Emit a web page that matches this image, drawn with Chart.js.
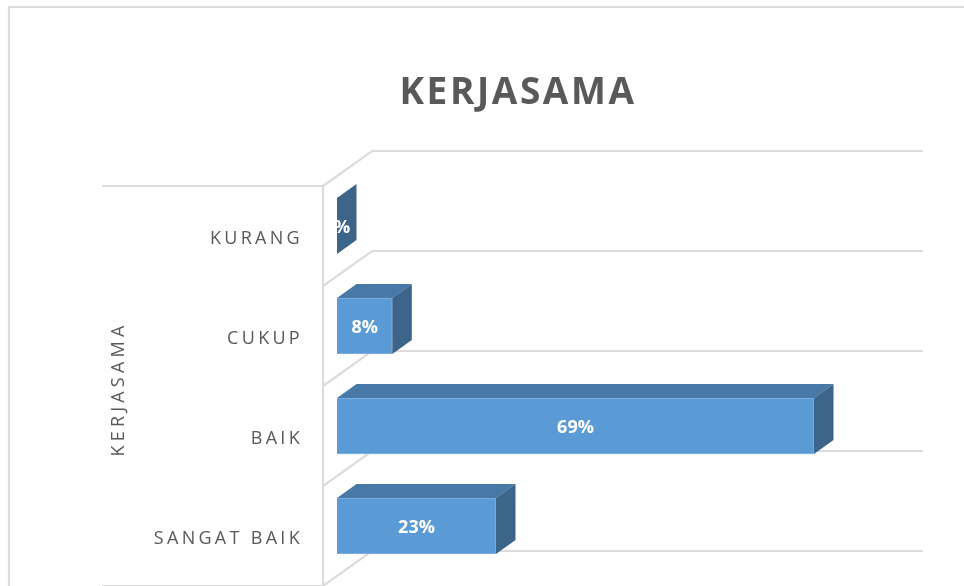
<!DOCTYPE html>
<html>
<head>
<meta charset="utf-8">
<title>KERJASAMA</title>
<script src="https://cdn.jsdelivr.net/npm/chart.js@4/dist/chart.umd.min.js"></script>
<style>
html,body{margin:0;padding:0;background:#fff;overflow:hidden}
canvas{display:block}
</style>
</head>
<body>
<canvas id="c" width="964" height="586"></canvas>
<script>
const categories = ['KURANG', 'CUKUP', 'BAIK', 'SANGAT BAIK'];
const values = [0, 8, 69, 23];
const chartTitle = 'KERJASAMA';
const axisTitle = 'KERJASAMA';

const FONT = '"Open Sans", Lato, sans-serif';
const INK = '#595959', GRID = '#dcdcdc';
const FRONT = '#5b9bd5', TOP = '#4878a6', SIDE = '#3c6589', EDGE = '#86b4de';
const DX = 19.5, DY = -14;         // bar extrusion
const BACK_DY = -25, FRONT_DY = 10; // wall offsets from the category band edges

const threeD = {
  id: 'threeD',
  beforeDraw(chart) {
    const ctx = chart.ctx;
    ctx.letterSpacing = '3.3px';
    ctx.save();
    ctx.strokeStyle = GRID;
    ctx.lineWidth = 2.2;
    ctx.beginPath();
    ctx.moveTo(9, 586); ctx.lineTo(9, 7); ctx.lineTo(964, 7);
    ctx.stroke();
    ctx.restore();
  },
  beforeDatasetsDraw(chart) {
    const ctx = chart.ctx, y = chart.scales.y;
    ctx.letterSpacing = '0px';
    const band = y.getPixelForTick(1) - y.getPixelForTick(0);
    const wallX = 323, backX = 372, endX = 923, floorX = 102;
    const edges = [];
    for (let i = 0; i <= categories.length; i++) edges.push(y.top + band * i);
    ctx.save();
    ctx.strokeStyle = GRID;
    ctx.lineWidth = 2.2;
    ctx.beginPath();
    ctx.moveTo(floorX, edges[0] + FRONT_DY);
    ctx.lineTo(wallX, edges[0] + FRONT_DY);
    ctx.lineTo(wallX, 586);
    ctx.moveTo(floorX, edges[4] + FRONT_DY);
    ctx.lineTo(wallX, edges[4] + FRONT_DY);
    edges.forEach(e => {
      ctx.moveTo(wallX, e + FRONT_DY);
      ctx.lineTo(backX, e + BACK_DY);
      ctx.lineTo(endX, e + BACK_DY);
    });
    ctx.stroke();
    ctx.restore();
  },
  afterDatasetsDraw(chart) {
    const ctx = chart.ctx;
    const bars = chart.getDatasetMeta(0).data;
    ctx.save();
    bars.forEach(b => {
      const t = b.y - b.height / 2, bt = b.y + b.height / 2, l = b.base, r = b.x;
      if (r > l) {
        ctx.fillStyle = TOP;
        ctx.beginPath();
        ctx.moveTo(l, t); ctx.lineTo(l + DX, t + DY); ctx.lineTo(r + DX, t + DY); ctx.lineTo(r, t);
        ctx.closePath(); ctx.fill();
      }
      ctx.fillStyle = SIDE;
      ctx.beginPath();
      ctx.moveTo(r, t); ctx.lineTo(r + DX, t + DY); ctx.lineTo(r + DX, bt + DY); ctx.lineTo(r, bt);
      ctx.closePath(); ctx.fill();
    });
    ctx.restore();
    // value labels, clipped at the zero line as in the original
    ctx.save();
    ctx.beginPath();
    ctx.rect(bars[0].base, 0, chart.width, chart.height);
    ctx.clip();
    ctx.fillStyle = '#ffffff';
    ctx.font = 'bold 18px ' + FONT;
    ctx.textAlign = 'center';
    ctx.textBaseline = 'middle';
    bars.forEach((b, i) => {
      ctx.fillText(values[i] + '%', (b.base + b.x) / 2, b.y + 2);
    });
    ctx.restore();
  }
};

const chart = new Chart(document.getElementById('c'), {
  type: 'bar',
  plugins: [threeD],
  data: {
    labels: categories,
    datasets: [{ data: values, backgroundColor: FRONT, borderColor: EDGE, barThickness: 56, borderWidth: 1 }]
  },
  options: {
    indexAxis: 'y',
    responsive: false,
    animation: false,
    devicePixelRatio: 1,
    layout: { padding: { left: 72, right: 0, top: 0, bottom: 10 } },
    plugins: {
      legend: { display: false },
      tooltip: { enabled: false },
      title: {
        display: true,
        text: chartTitle,
        color: INK,
        font: { family: FONT, size: 37, weight: 'bold', lineHeight: 1.2 },
        padding: { top: 71, bottom: 60.6 }
      }
    },
    scales: {
      x: { display: false, min: 0, max: 90.7 },
      y: {
        grid: { display: false, drawTicks: false },
        border: { display: false },
        afterFit(s) {
          s.width = 265;
          s.paddingTop = 0; s.paddingBottom = 0;
        },
        ticks: {
          color: INK,
          font: { family: FONT, size: 18 },
          padding: 34,
          labelOffset: 13
        },
        title: {
          display: true,
          text: axisTitle,
          color: INK,
          font: { family: FONT, size: 18 },
          padding: { top: 36, bottom: 0 }
        }
      }
    }
  }
});

// the chart title has tighter tracking than the axis text; the axis title sits lower than the axis centre
const tb = chart.titleBlock, tbDraw = tb.draw;
tb.draw = function () {
  const c = chart.ctx; c.save(); c.letterSpacing = '2.6px'; tbDraw.call(tb); c.restore();
};
const ys = chart.scales.y, ysTitle = ys.drawTitle;
ys.drawTitle = function () {
  const c = chart.ctx; c.save(); c.letterSpacing = '4.2px'; c.translate(0, 13); ysTitle.call(ys); c.restore();
};
chart.draw();
</script>
</body>
</html>
